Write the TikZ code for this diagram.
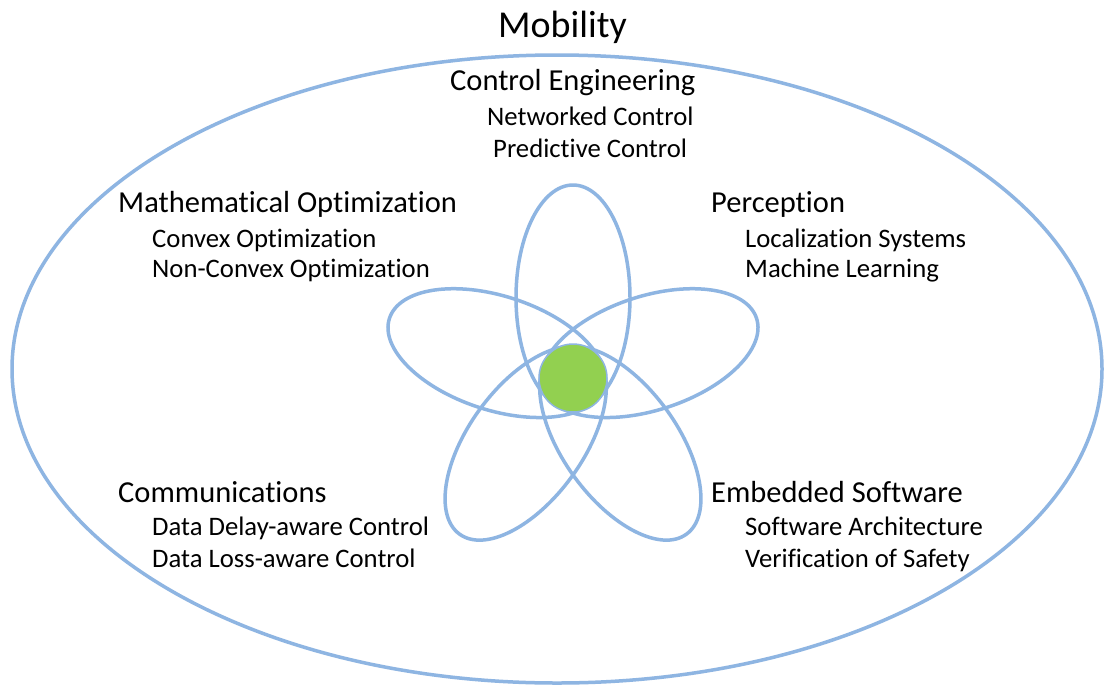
\documentclass[tikz,border=0pt]{standalone}
\usepackage{fontspec}
\setmainfont[Ligatures=NoCommon]{Carlito}
\usetikzlibrary{calc}
\definecolor{petal}{RGB}{142,181,226}
\definecolor{core}{RGB}{146,208,80}
\begin{document}
\begin{tikzpicture}[x=1pt,y=1pt,
  ring/.style={draw=petal,line width=3.5pt},
  head/.style={anchor=base west,inner sep=0pt,font=\fontsize{30.5}{36}\selectfont},
  sub/.style={anchor=base west,inner sep=0pt,font=\fontsize{26.7}{32}\selectfont},
  ttl/.style={anchor=base west,inner sep=0pt,font=\fontsize{38}{44}\selectfont}]
\useasboundingbox (0,0) rectangle (1105,-686);
\fill[white] (0,0) rectangle (1105,-686);
% outer ellipse
\draw[ring] (557,-369) ellipse [x radius=545,y radius=314];
% petals
\coordinate (fc) at (573,-378);
\foreach \a in {90,162,234,306,18}{
  \draw[ring] ($(fc)+(\a:80.5)$) ellipse [x radius=112.5,y radius=57,rotate=\a];
}
\node[circle,fill=core,draw=petal,line width=1.5pt,minimum size=68pt,inner sep=0pt] (core) at (fc) {};
% texts
\node[ttl] (mob) at (498,-37) {Mobility};
\node[head] (ce) at (450,-90) {Control Engineering};
\node[sub] (ce1) at (487,-125) {Networked Control};
\node[sub] (ce2) at (493,-157) {Predictive Control};
\node[head] (mo) at (118,-212) {Mathematical Optimization};
\node[sub] (mo1) at (152,-247) {Convex Optimization};
\node[sub] (mo2) at (152,-277) {Non-Convex Optimization};
\node[head] (pe) at (711,-212) {Perception};
\node[sub] (pe1) at (745,-247) {Localization Systems};
\node[sub] (pe2) at (745,-277) {Machine Learning};
\node[head] (co) at (118,-502) {Communications};
\node[sub] (co1) at (152,-535) {Data Delay-aware Control};
\node[sub] (co2) at (152,-567) {Data Loss-aware Control};
\node[head] (es) at (711,-502) {Embedded Software};
\node[sub] (es1) at (745,-535) {Software Architecture};
\node[sub] (es2) at (745,-567) {Verification of Safety};
\end{tikzpicture}
\end{document}
